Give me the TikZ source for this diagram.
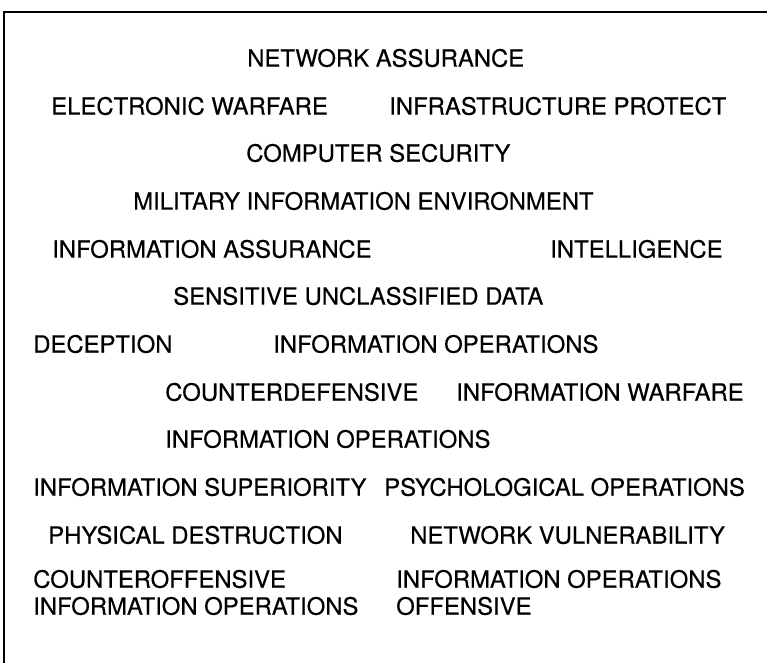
\documentclass[tikz,border=0pt]{standalone}
\usepackage{fontspec}
\setmainfont{TeX Gyre Heros}[FakeBold=0.4]
\begin{document}
\begin{tikzpicture}[x=0.75pt,y=-0.75pt,
  term/.style={anchor=west,inner sep=0pt,font=\fontsize{17.9}{20}\selectfont},
  frame/.style={line width=1.2pt,black}]
\useasboundingbox (0,0) rectangle (767,663);
\coordinate (tl) at (4,12);
\coordinate (tr) at (767,12);
\coordinate (bl) at (4,663);
\draw[frame] (bl) -- (tl) -- (tr);
\node[term] (na)  at (247,58)  {NETWORK ASSURANCE};
\node[term] (ew)  at (51,106)  {ELECTRONIC WARFARE};
\node[term] (ip)  at (389,106) {INFRASTRUCTURE PROTECT};
\node[term] (cs)  at (246,153) {COMPUTER SECURITY};
\node[term] (mie) at (133,201) {MILITARY INFORMATION ENVIRONMENT};
\node[term] (ia)  at (52,249)  {INFORMATION ASSURANCE};
\node[term] (int) at (550,249) {INTELLIGENCE};
\node[term] (sud) at (173,296) {SENSITIVE UNCLASSIFIED DATA};
\node[term] (dec) at (33,344)  {DECEPTION};
\node[term] (io1) at (273,344) {INFORMATION OPERATIONS};
\node[term] (cd)  at (165,392) {COUNTERDEFENSIVE};
\node[term] (iw)  at (456,392) {INFORMATION WARFARE};
\node[term] (io2) at (165,439) {INFORMATION OPERATIONS};
\node[term] (is)  at (33,487)  {INFORMATION SUPERIORITY};
\node[term] (po)  at (384,487) {PSYCHOLOGICAL OPERATIONS};
\node[term] (pd)  at (48,535)  {PHYSICAL DESTRUCTION};
\node[term] (nv)  at (410,535) {NETWORK VULNERABILITY};
\node[term] (co)  at (33,579)  {COUNTEROFFENSIVE};
\node[term] (io3) at (33,606)  {INFORMATION OPERATIONS};
\node[term] (io4) at (396,579) {INFORMATION OPERATIONS};
\node[term] (off) at (396,606) {OFFENSIVE};
\end{tikzpicture}
\end{document}
